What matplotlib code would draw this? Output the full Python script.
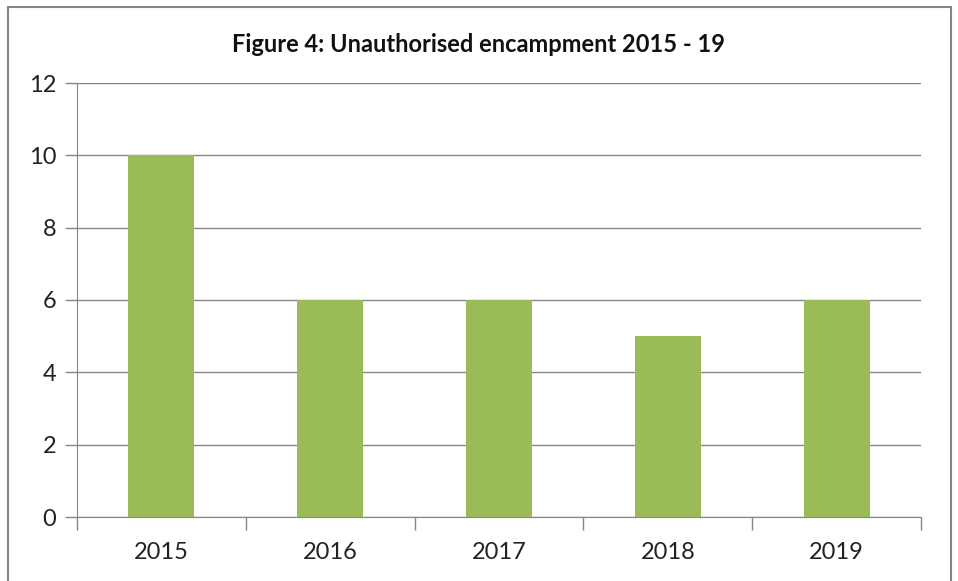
import matplotlib.pyplot as plt
import matplotlib.patches as patches
import numpy as np

years = ['2015', '2016', '2017', '2018', '2019']
counts = [10, 6, 6, 5, 6]

plt.rcParams['font.family'] = ['Lato', 'DejaVu Sans']

fig = plt.figure(figsize=(9.58, 5.81), dpi=100)
ax = fig.add_axes([77/958, 1 - 517/581, (921 - 77)/958, (517 - 83)/581])

x = np.arange(len(years))
ax.bar(x, counts, width=0.39, color='#9BBB59', zorder=3)

ax.set_xlim(-0.5, len(years) - 0.5)
ax.set_ylim(0, 12)
ax.set_yticks(range(0, 13, 2))
ax.set_xticks(x)
ax.set_xticklabels(years)
ax.set_xticks(np.arange(-0.5, len(years)), minor=True)
ax.tick_params(axis='x', which='major', length=0, pad=18, labelsize=17, colors='#222222')
ax.tick_params(axis='x', which='minor', length=9, width=1, color='#868686')
ax.tick_params(axis='y', length=9, width=1, color='#868686', labelsize=17, labelcolor='#222222', pad=6)

ax.yaxis.grid(True, color='#868686', linewidth=1, zorder=0)
for s in ['top', 'right']:
    ax.spines[s].set_visible(False)
for s in ['left', 'bottom']:
    ax.spines[s].set_color('#868686')

fig.text(0.5, 1 - 45/581, 'Figure 4: Unauthorised encampment 2015 - 19',
         ha='center', va='center', fontsize=17, fontweight='bold', color='#111111')

border = patches.Rectangle((8/958, -0.05), (951 - 8)/958, 1.05 - 7/581,
                           transform=fig.transFigure, fill=False,
                           edgecolor='#868686', linewidth=1.5)
fig.patches.append(border)

fig.savefig('out.png', dpi=100)
